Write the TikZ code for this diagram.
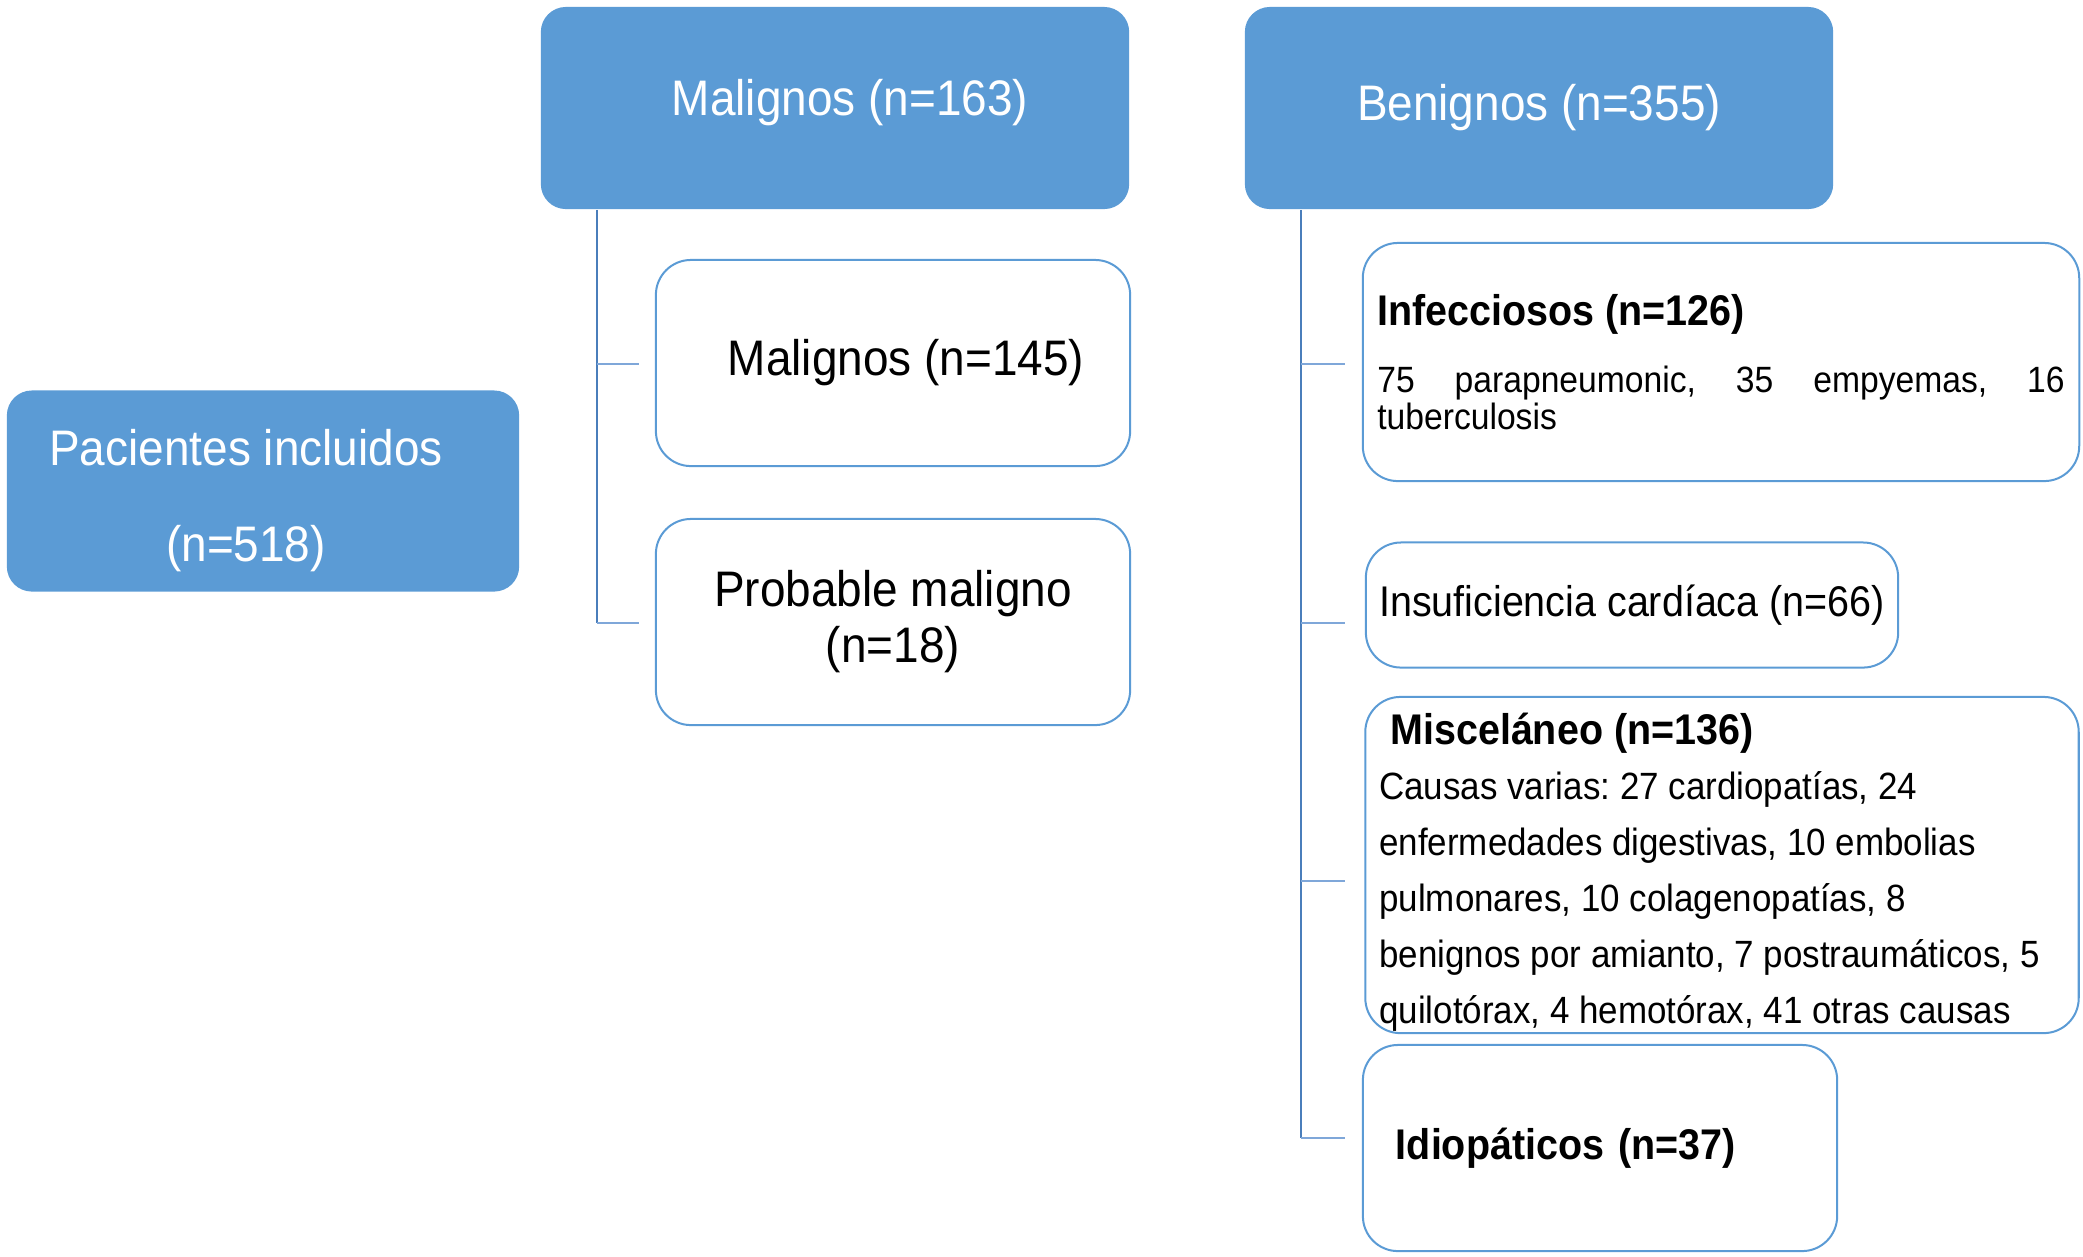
\documentclass[tikz,border=0pt]{standalone}
\usepackage{fontspec}
\setmainfont{Liberation Sans}[FakeStretch=0.92]
\usepackage{tikz}
\definecolor{boxblue}{HTML}{5B9BD5}
\definecolor{lineblue}{HTML}{4A7EBB}
\definecolor{stubblue}{HTML}{7FA7D9}
\hyphenpenalty=10000
\frenchspacing
\setlength{\parindent}{0pt}
\newcommand{\bigtxt}{\fontsize{14.2pt}{15.9pt}\selectfont}
\newcommand{\medtxt}{\fontsize{12.2pt}{14pt}\selectfont}
\newcommand{\smtxt}{\fontsize{10.8pt}{15.9pt}\selectfont}
\newcommand{\tinytxt}{\fontsize{10.4pt}{10.5pt}\selectfont}

\begin{document}
\begin{tikzpicture}[x=0.01cm, y=-0.01cm,
  headbox/.style={fill=boxblue, rounded corners=0.25cm, text=white, inner sep=0pt, align=center},
  subbox/.style={draw=boxblue, line width=0.02cm, rounded corners=0.35cm, inner sep=0pt},
  trunk/.style={lineblue, line width=0.022cm},
  stub/.style={stubblue, line width=0.028cm}]
  \useasboundingbox (0,0) rectangle (2083,1256);
  % top level
  \node[headbox, minimum width=5.12cm, minimum height=2.01cm, font={\fontsize{14.2pt}{27.3pt}\selectfont}] (pac) at (263,491) {\hspace*{-0.34cm}\raisebox{-0.1cm}[\height][\depth]{\parbox{4.4cm}{\centering Pacientes incluidos\\(n=518)}}};
  \node[headbox, minimum width=5.88cm, minimum height=2.02cm, font=\bigtxt] (mal) at (835,108) {\hspace*{0.3cm}\raisebox{0.05cm}[\height][\depth]{Malignos (n=163)}};
  \node[headbox, minimum width=5.88cm, minimum height=2.02cm, font=\bigtxt] (ben) at (1539,108) {Benignos (n=355)};
  % malignant branch
  \node[subbox, minimum width=4.74cm, minimum height=2.06cm, font=\bigtxt] (mal145) at (893,363) {\hspace*{0.26cm}Malignos (n=145)};
  \node[subbox, minimum width=4.74cm, minimum height=2.06cm, font=\bigtxt, align=center] (probmal) at (893,622) {Probable maligno\\(n=18)};
  % benign branch
  \node[subbox, minimum width=7.16cm, minimum height=2.38cm, text width=6.87cm, align=justify] (infec) at (1721,362) {{\medtxt\bfseries Infecciosos (n=126)\par}\vspace{8.5pt}{\tinytxt 75 parapneumonic, 35 empyemas, 16 tuberculosis\par}};
  \node[subbox, minimum width=5.32cm, minimum height=1.25cm, font=\medtxt] (cardiac) at (1632,605) {Insuficiencia cardíaca (n=66)};
  \node[subbox, minimum width=7.13cm, minimum height=3.36cm] (misc) at (1722,865) {\raisebox{-0.07cm}[\height][\depth]{\parbox{6.85cm}{\raggedright{\medtxt\bfseries\hspace*{0.11cm}Misceláneo (n=136)\par}{\smtxt Causas varias: 27 cardiopatías, 24\\enfermedades digestivas, 10 embolias\\pulmonares, 10 colagenopatías, 8\\benignos por amianto, 7 postraumáticos, 5\\quilotórax, 4 hemotórax, 41 otras causas\par}}}};
  \node[subbox, minimum width=4.74cm, minimum height=2.06cm, text width=4.08cm, align=left, font=\medtxt\bfseries] (idio) at (1600,1148) {Idiopáticos (n=37)};
  % connectors
  \coordinate (mtop) at ([xshift=0.57cm]mal.south west);
  \coordinate (btop) at ([xshift=0.57cm]ben.south west);
  \foreach \y/\n in {364/1,623/2} \coordinate (ms\n) at (639,\y);
  \foreach \y/\n in {364/1,623/2,881/3,1138/4} \coordinate (bs\n) at (1345,\y);
  \draw[trunk] (mtop) -- (mtop |- ms2);
  \draw[trunk] (btop) -- (btop |- bs4);
  \foreach \n in {1,2} \draw[stub] (mtop |- ms\n) -- (ms\n);
  \foreach \n in {1,...,4} \draw[stub] (btop |- bs\n) -- (bs\n);
\end{tikzpicture}
\end{document}
